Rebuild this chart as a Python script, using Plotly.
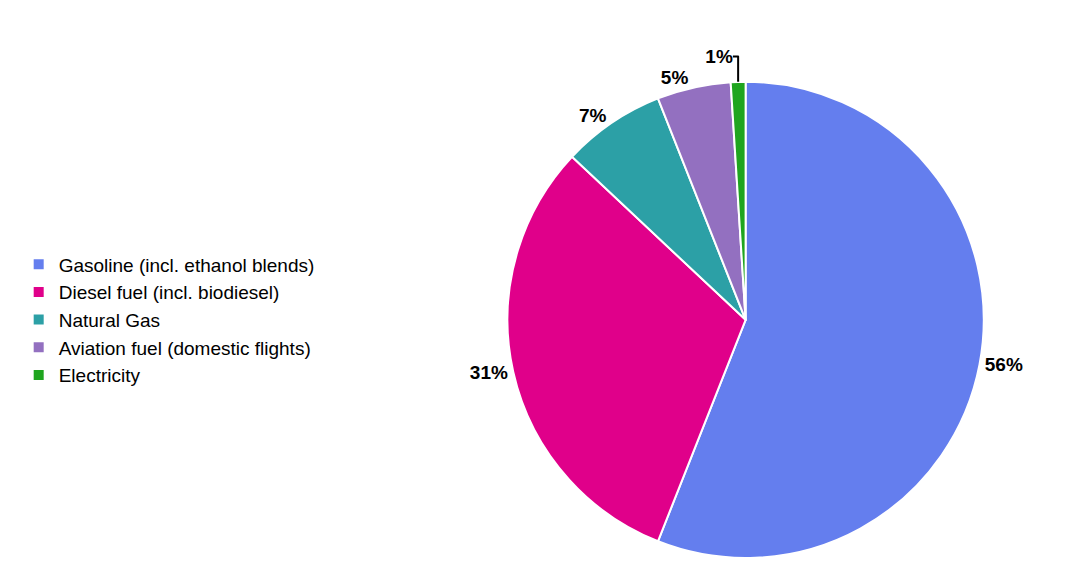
import plotly.graph_objects as go

labels = ["Gasoline (incl. ethanol blends)", "Diesel fuel (incl. biodiesel)", "Natural Gas",
          "Aviation fuel (domestic flights)", "Electricity"]
values = [56, 31, 7, 5, 1]
colors = ["#647EEE", "#E0008A", "#2CA0A6", "#9370C0", "#1FA51F"]

fig = go.Figure(go.Pie(
    labels=labels, values=values, sort=False, direction="clockwise", rotation=0,
    marker=dict(colors=colors, line=dict(color="white", width=2)),
    textinfo="percent", texttemplate="<b>%{percent:.0%}</b>", textposition="outside",
    textfont=dict(family="Liberation Sans", size=19, color="black"),
    domain=dict(x=[0.44, 0.94], y=[0.03, 0.87]),
))
fig.update_layout(
    width=1077, height=567, margin=dict(l=0, r=0, t=0, b=0),
    paper_bgcolor="white", plot_bgcolor="white",
    legend=dict(x=0.01, y=0.45, xanchor="left", yanchor="middle",
                font=dict(family="Liberation Sans", size=19, color="black"),
                tracegroupgap=0, itemwidth=30),
)
fig.write_html("out.html")
